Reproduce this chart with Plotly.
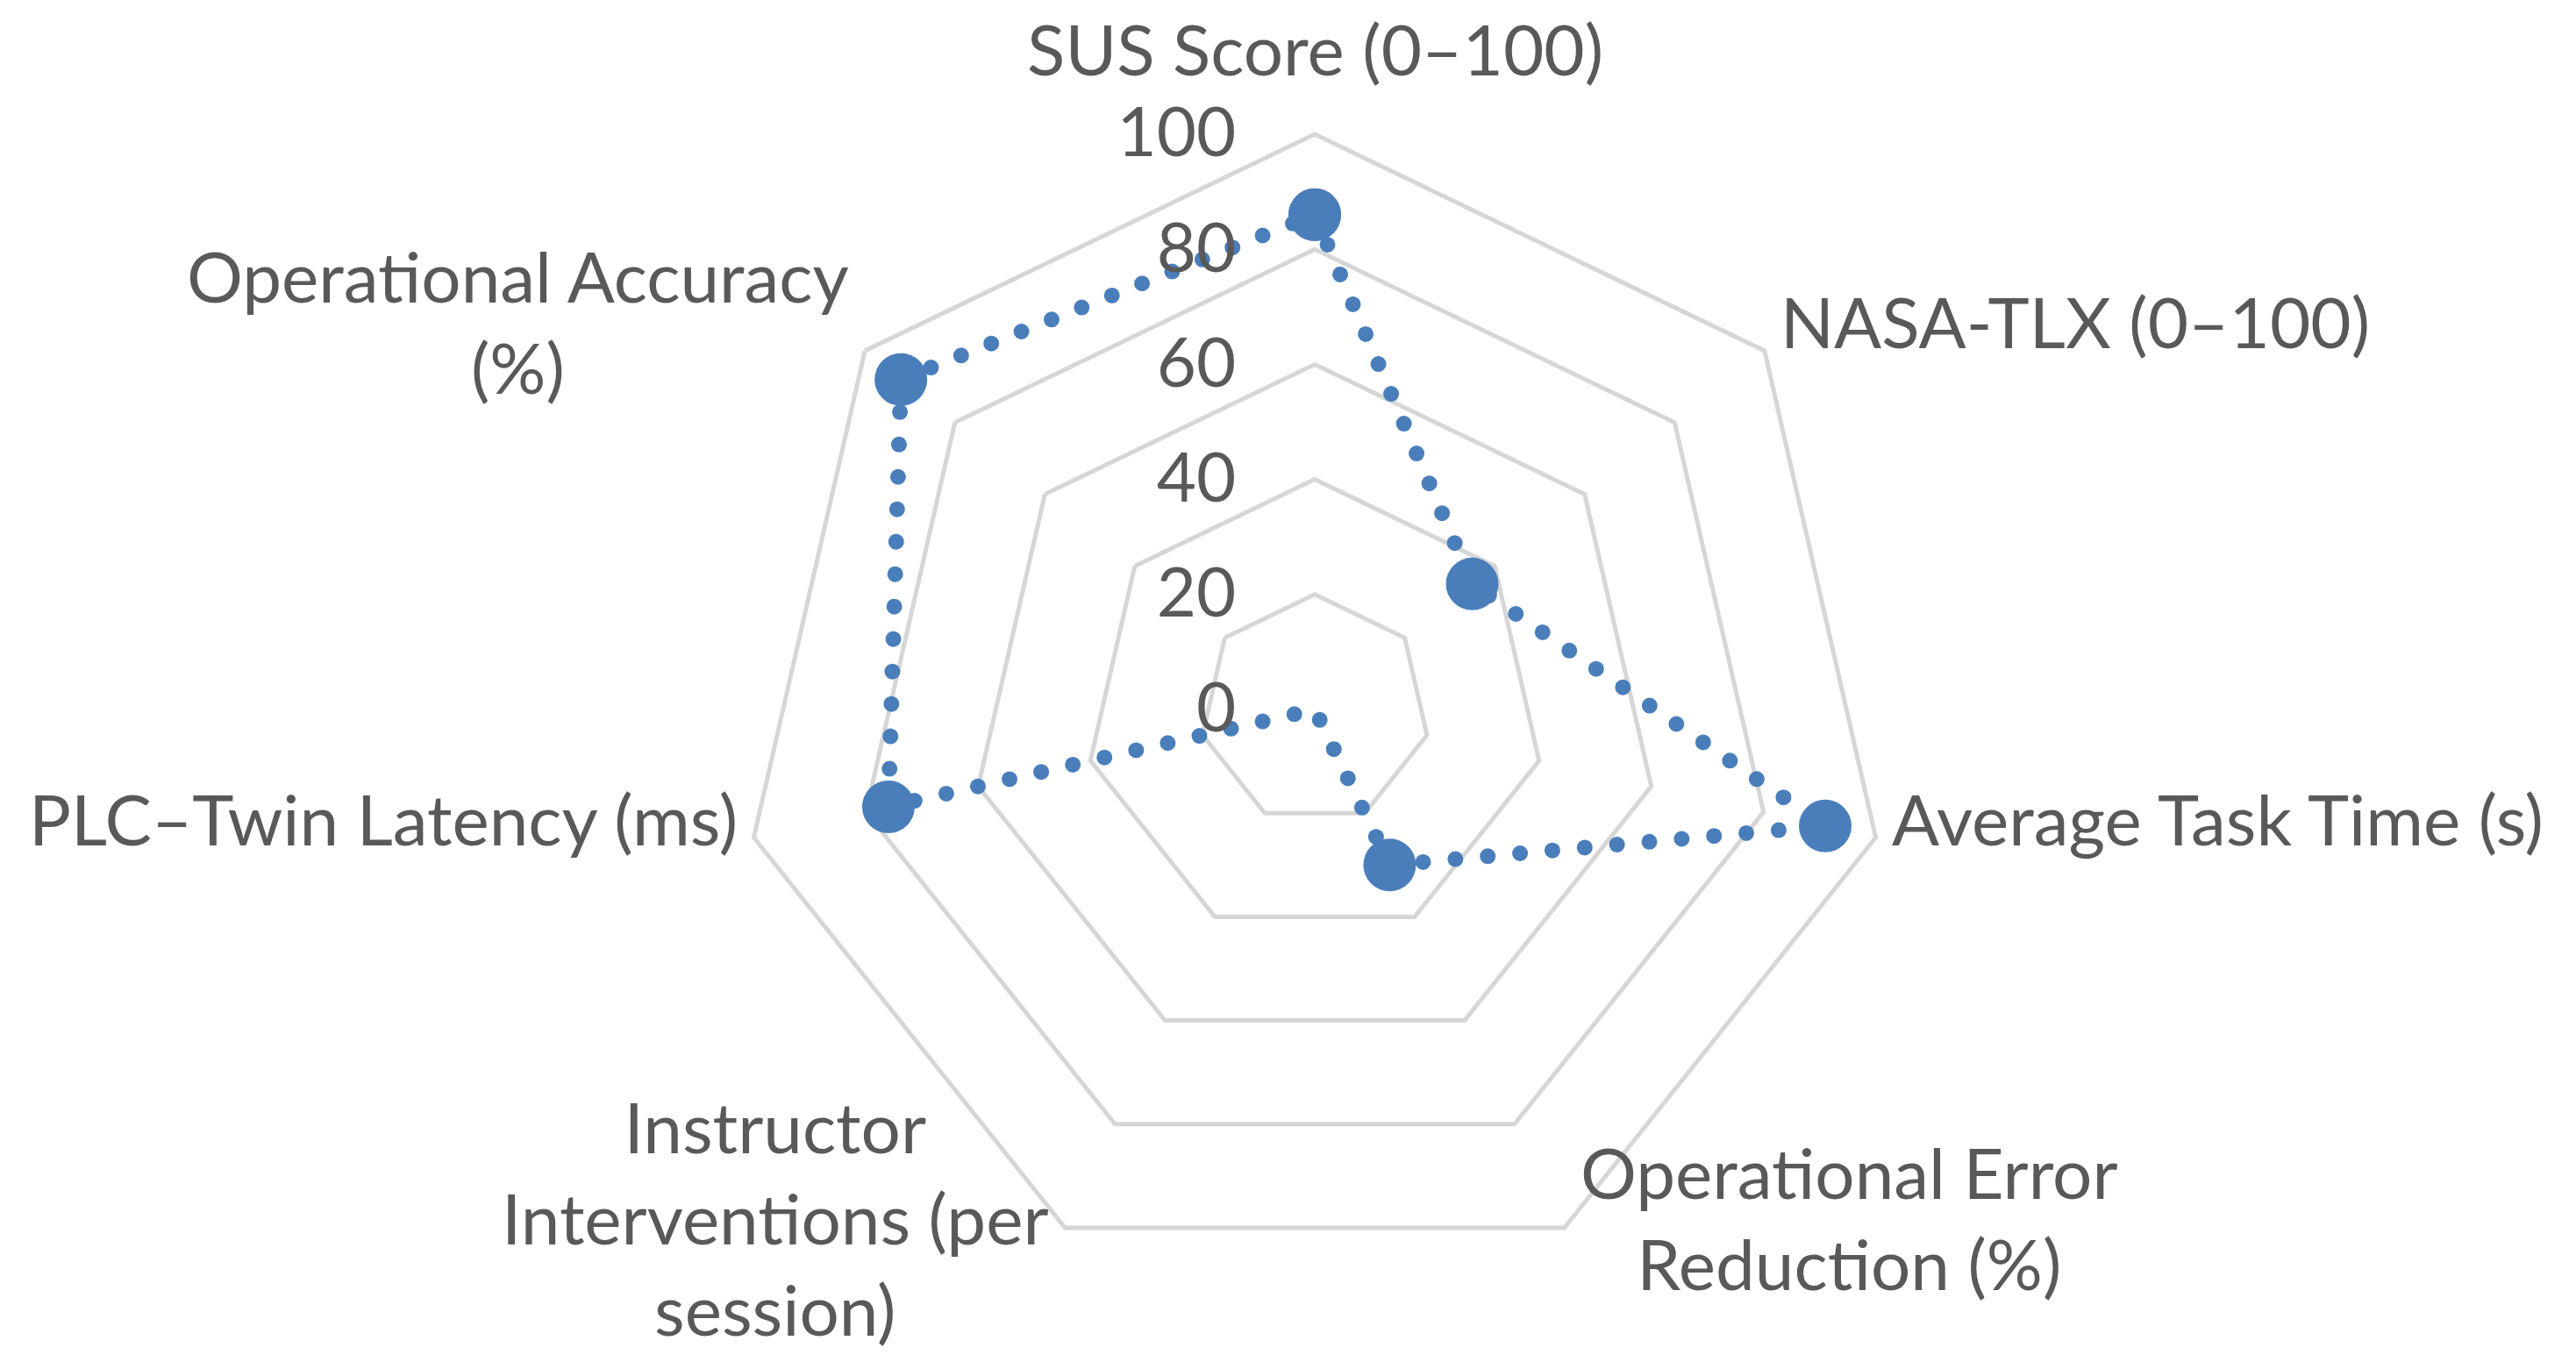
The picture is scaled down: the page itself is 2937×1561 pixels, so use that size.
import math
import plotly.graph_objects as go

categories = [
    "SUS Score (0–100)",
    "NASA-TLX (0–100)",
    "Average Task Time (s)",
    "Operational Error<br>Reduction (%)",
    "Instructor<br>Interventions (per<br>session)",
    "PLC–Twin Latency (ms)",
    "Operational Accuracy<br>(%)",
]
values = [86, 35, 91, 30, 0, 76, 92]
radial_ticks = [0, 20, 40, 60, 80, 100]

W, H = 2937, 1561
text_color = "#595959"
grid_color = "#D6D6D6"
blue = "#4A7EBB"

# polar placement (pixels)
cx, cy, R = 1491, 801, 656
dom_x = [(cx - R) / W, (cx + R) / W]
dom_y = [1 - (cy + R) / H, 1 - (cy - R) / H]

fig = go.Figure()
fig.add_trace(go.Scatterpolar(
    r=values + values[:1],
    theta=categories + categories[:1],
    mode="lines+markers",
    line=dict(color=blue, width=18, dash="0px,37px"),
    marker=dict(color=blue, size=60, line=dict(width=0)),
    showlegend=False,
    hoverinfo="skip",
))

# category labels placed beside each outer vertex, the way Excel does it
n = len(categories)
for i, lab in enumerate(categories):
    a = math.radians(i * 360 / n)
    vx = cx + R * math.sin(a)
    vy = cy - R * math.cos(a)
    if i == 0:
        xa, xs, ys = "center", 0, 98
    elif math.sin(a) > 0:
        xa, xs, ys = "left", 16, 25 + 14 * math.cos(a)
    else:
        xa, xs, ys = "right", -16, 25 + 14 * math.cos(a)
    fig.add_annotation(
        text=lab, x=vx / W, y=1 - vy / H, xref="paper", yref="paper",
        xanchor=xa, yanchor="middle", xshift=xs, yshift=ys,
        align="center", showarrow=False,
        font=dict(size=80, color=text_color),
    )

fig.update_layout(
    width=W, height=H,
    margin=dict(l=0, r=0, t=0, b=0),
    paper_bgcolor="white",
    font=dict(family="Lato, 'Open Sans', sans-serif", size=78, color=text_color),
    polar=dict(
        domain=dict(x=dom_x, y=dom_y),
        bgcolor="white",
        gridshape="linear",
        angularaxis=dict(
            direction="clockwise",
            rotation=90,
            showgrid=False,
            showline=True,
            linecolor=grid_color,
            linewidth=5,
            ticks="",
            showticklabels=False,
        ),
        radialaxis=dict(
            range=[0, 100],
            tickvals=radial_ticks,
            angle=90,
            tickangle=90,
            side="counterclockwise",
            showline=False,
            ticks="outside",
            ticklen=62,
            tickcolor="rgba(0,0,0,0)",
            gridcolor=grid_color,
            gridwidth=5,
            tickfont=dict(size=78, color=text_color),
        ),
    ),
)

# round caps so the dotted line looks like Excel's round dots
post = """
document.querySelectorAll('.scatterlayer .js-line').forEach(function(p){
  p.style.strokeLinecap = 'round';
});
"""
fig.write_html("out.html", post_script=post)
